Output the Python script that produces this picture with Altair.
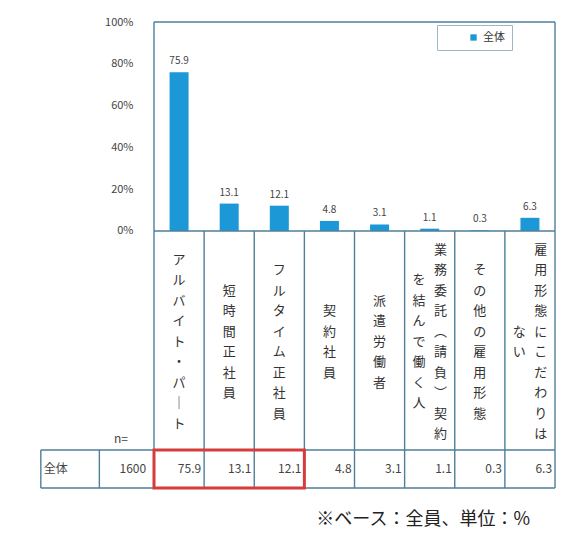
import altair as alt
import pandas as pd

# ---------------- data ----------------
categories = [
    "アルバイト・パート",
    "短時間正社員",
    "フルタイム正社員",
    "契約社員",
    "派遣労働者",
    "業務委託（請負）契約を結んで働く人",
    "その他の雇用形態",
    "雇用形態にこだわりはない",
]
values = [75.9, 13.1, 12.1, 4.8, 3.1, 1.1, 0.3, 6.3]
highlighted = [True, True, True, False, False, False, False, False]
series_name = "全体"
n_base = 1600
n_label = "n="
y_ticks = [0, 20, 40, 60, 80, 100]
footnote = "※ベース：全員、単位：%"

# ---------------- layout ----------------
FONT = "Noto Sans CJK JP"
W, H = 411, 466
Y_MIN, Y_MAX = -123, 100
NCOL = len(categories)
px_x = W / NCOL
px_y = H / (Y_MAX - Y_MIN)
LH = 20.5


def yu(px_below_zero):
    return -px_below_zero / px_y


def xu(px_from_left):
    return px_from_left / px_x


ROW_TOP = yu(219)
ROW_BOT = Y_MIN
ROW_MID = yu(238)
LABEL_MID = 111
HDR_LEFT = xu(-116)
HDR_SPLIT = xu(-56)
LINE = "#4f7f99"
BLUE = "#1c98d6"

# bars
bars_df = pd.DataFrame({
    "x": [i + 0.5 for i in range(NCOL)],
    "v": values,
    "zero": [0] * NCOL,
    "series": [series_name] * NCOL,
    "lab": [f"{v:.1f}" for v in values],
})

# vertical category labels (columns right-to-left, each centred vertically)
VERT = {"ー": "｜", "（": "︵", "）": "︶"}
lab_rows = []
for i, c in enumerate(categories):
    s = "".join(VERT.get(ch, ch) for ch in c)
    chunks = [s[k:k + 10] for k in range(0, len(s), 10)]
    n = len(chunks)
    for j, ch in enumerate(chunks):
        off = ((n - 1) / 2 - j) * 22
        top_px = LABEL_MID - (len(ch) - 1) / 2 * LH
        lab_rows.append({"x": i + 0.5 + xu(off), "y": yu(top_px), "t": "\n".join(ch)})
labels_df = pd.DataFrame(lab_rows)

# table values row
row_df = pd.DataFrame({
    "x": [i + 1 + xu(-3) for i in range(NCOL)],
    "y": [ROW_MID] * NCOL,
    "t": [f"{v:.1f}" for v in values],
})

hdr_df = pd.DataFrame({
    "x": [HDR_LEFT + xu(3), xu(-8), xu(-41)],
    "y": [ROW_MID, ROW_MID, yu(208)],
    "t": [series_name, str(n_base), n_label],
    "a": ["left", "right", "left"],
})

# frame / table lines
segs = [
    (0, NCOL, Y_MAX, Y_MAX),
    (0, 0, Y_MAX, ROW_BOT),
    (NCOL, NCOL, Y_MAX, ROW_BOT),
    (0, NCOL, 0, 0),
    (HDR_LEFT, NCOL, ROW_TOP, ROW_TOP),
    (HDR_LEFT, NCOL, ROW_BOT, ROW_BOT),
    (HDR_LEFT, HDR_LEFT, ROW_TOP, ROW_BOT),
    (HDR_SPLIT, HDR_SPLIT, ROW_TOP, ROW_BOT),
]
for k in range(1, NCOL):
    segs.append((k, k, 0, ROW_BOT))
seg_df = pd.DataFrame(segs, columns=["x", "x2", "y", "y2"])

hi_idx = [i for i, h in enumerate(highlighted) if h]
box_df = pd.DataFrame({"x": [min(hi_idx)], "x2": [max(hi_idx) + 1],
                       "y": [ROW_TOP], "y2": [ROW_BOT]})

xs = alt.Scale(domain=[0, NCOL], nice=False, zero=False)
ys = alt.Scale(domain=[Y_MIN, Y_MAX], nice=False, zero=False)

bars = alt.Chart(bars_df).mark_bar(size=19, orient="vertical").encode(
    x=alt.X("x:Q", scale=xs, axis=None),
    y=alt.Y("v:Q", scale=ys, axis=alt.Axis(
        values=y_ticks, labelExpr="datum.value + '%'", domain=False, ticks=False,
        grid=False, labelPadding=16, labelFontSize=11, labelColor="#444",
        labelFont=FONT, title=None)),
    y2="zero:Q",
    color=alt.Color("series:N", scale=alt.Scale(range=[BLUE]), legend=alt.Legend(
        title=None, orient="none", legendX=288, legendY=3, symbolType="square",
        symbolSize=40, labelFontSize=11, labelFont=FONT, labelColor="#333",
        padding=7, strokeColor="#9bb8c9", fillColor="white", symbolOffset=24,
        labelExpr="datum.label + '          '")),
)

bar_text = alt.Chart(bars_df).mark_text(
    baseline="bottom", dy=-6, fontSize=10, font=FONT, color="#444"
).encode(x=alt.X("x:Q", scale=xs), y=alt.Y("v:Q", scale=ys), text="lab:N")

rules = alt.Chart(seg_df).mark_rule(color=LINE, strokeWidth=1.4).encode(
    x=alt.X("x:Q", scale=xs), x2="x2:Q", y=alt.Y("y:Q", scale=ys), y2="y2:Q")

box = alt.Chart(box_df).mark_rect(fillOpacity=0, stroke="#d63c3c", strokeWidth=3).encode(
    x=alt.X("x:Q", scale=xs), x2="x2:Q", y=alt.Y("y:Q", scale=ys), y2="y2:Q")

cat_text = alt.Chart(labels_df).mark_text(
    lineBreak="\n", align="center", baseline="middle", fontSize=13,
    lineHeight=LH, font=FONT, color="#333"
).encode(x=alt.X("x:Q", scale=xs), y=alt.Y("y:Q", scale=ys), text="t:N")

row_text = alt.Chart(row_df).mark_text(
    align="right", baseline="middle", fontSize=12, font=FONT, color="#444"
).encode(x=alt.X("x:Q", scale=xs), y=alt.Y("y:Q", scale=ys), text="t:N")

hdr_left = alt.Chart(hdr_df[hdr_df.a == "left"]).mark_text(
    align="left", baseline="middle", fontSize=12, font=FONT, color="#444"
).encode(x=alt.X("x:Q", scale=xs), y=alt.Y("y:Q", scale=ys), text="t:N")
hdr_right = alt.Chart(hdr_df[hdr_df.a == "right"]).mark_text(
    align="right", baseline="middle", fontSize=12, font=FONT, color="#444"
).encode(x=alt.X("x:Q", scale=xs), y=alt.Y("y:Q", scale=ys), text="t:N")

foot = alt.Chart(pd.DataFrame({"t": [footnote]})).mark_text(
    align="right", baseline="middle", fontSize=18, font=FONT, color="#222"
).encode(x=alt.value(381), y=alt.value(498), text="t:N")

chart = alt.layer(
    bars, bar_text, rules, box, cat_text, row_text, hdr_left, hdr_right, foot
).properties(
    width=W, height=H,
    autosize=alt.AutoSizeParams(type="none"),
    padding={"left": 141, "top": 14, "right": 2, "bottom": 44},
    background="white",
).configure_view(stroke=None)

chart.save("out.html", embed_options={"renderer": "svg", "actions": False})
